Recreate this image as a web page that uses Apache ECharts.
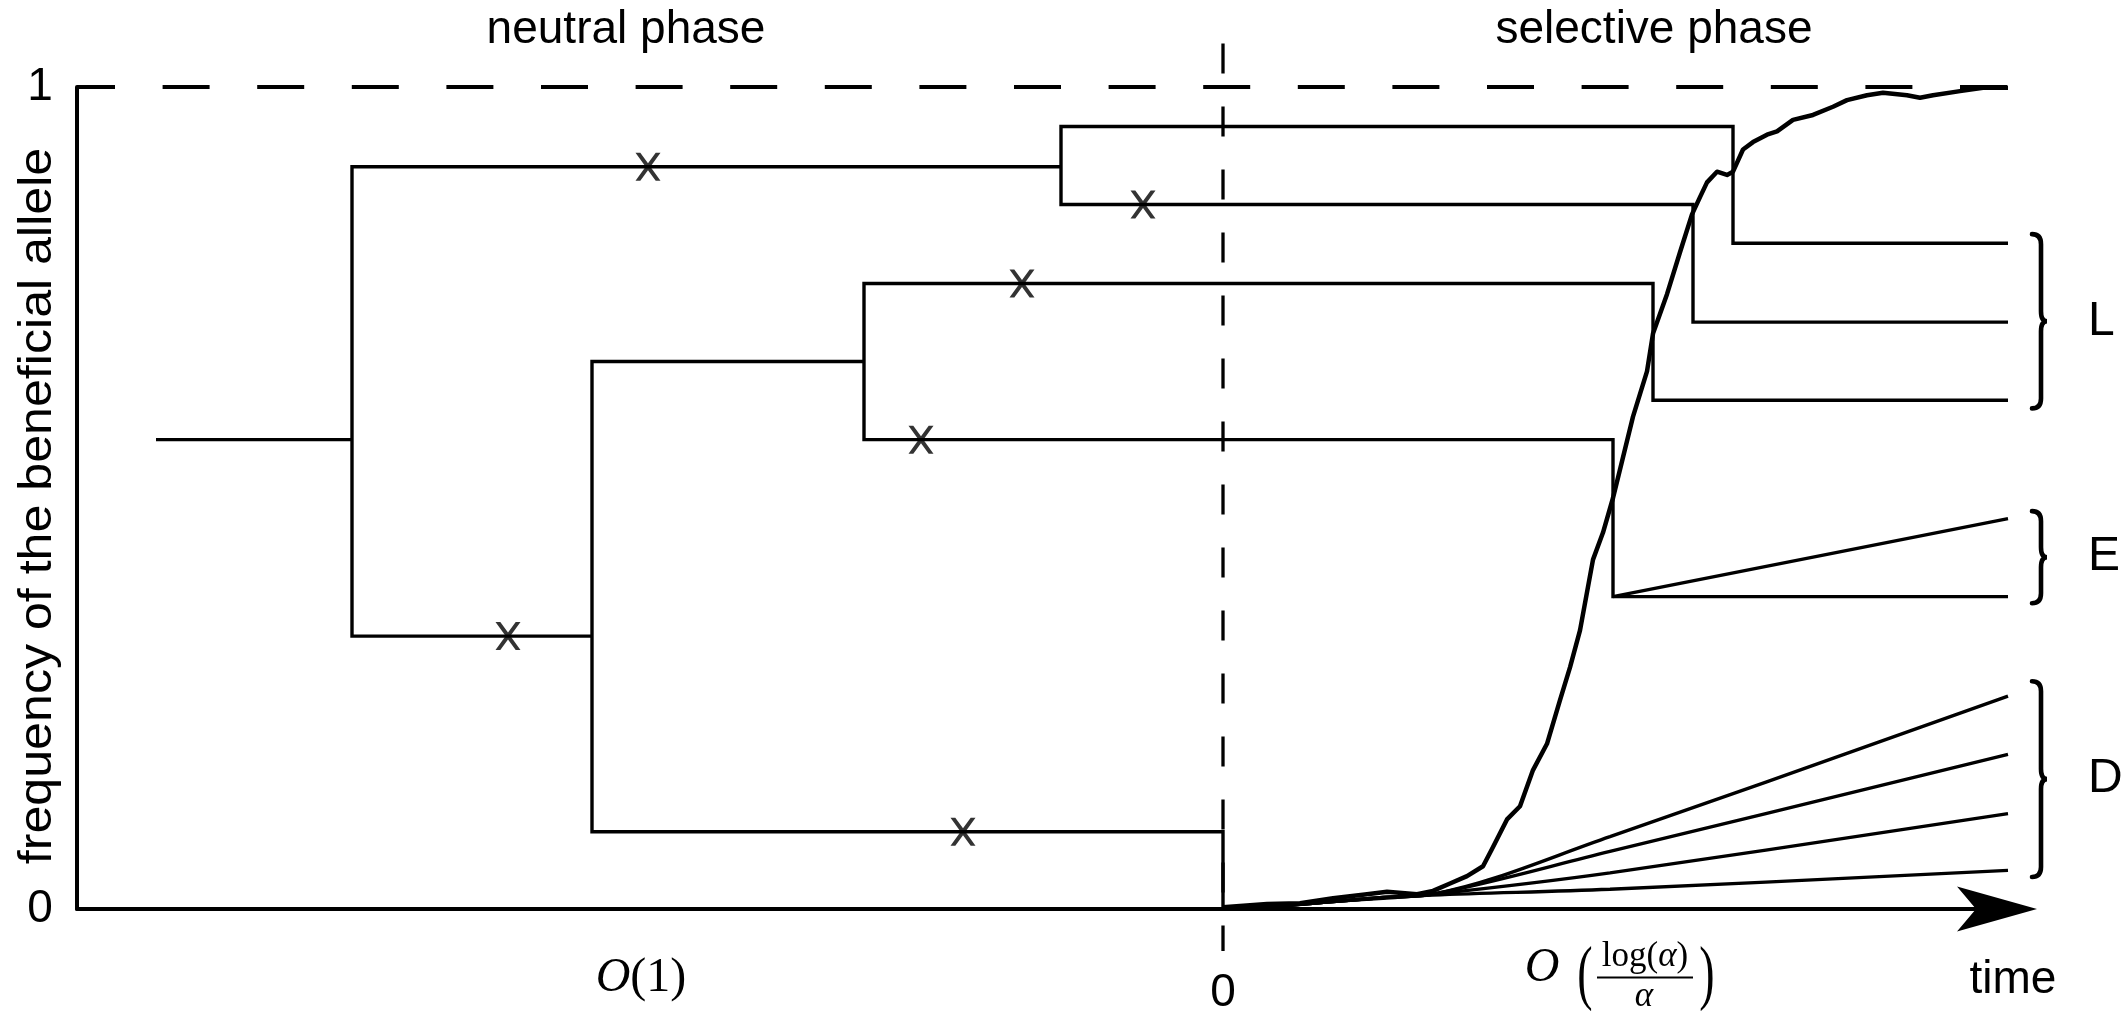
<!DOCTYPE html>
<html>
<head>
<meta charset="utf-8">
<title>neutral and selective phase</title>
<script src="https://cdn.jsdelivr.net/npm/echarts@6/dist/echarts.min.js"></script>
<style>
  html, body { margin: 0; padding: 0; background: #fff; }
  #chart { width: 2124px; height: 1016px; }
</style>
</head>
<body>
<div id="chart"></div>
<script>
// time axis: 0 = start of the selective phase, frequency axis 0..1
const timeMin = -11.46
const timeMax = 8.05
const freqTicks = [0, 1]
const timeTicks = [0]
const arrowTip = [8.14, 0]

// genealogy, every branch is a polyline of [time, frequency]
const branches = [
  [[-10.67, 0.571], [-8.71, 0.571]],
  [[-1.62, 0.903], [-8.71, 0.903], [-8.71, 0.332], [-6.31, 0.332]],
  [[7.85, 0.810], [5.10, 0.810], [5.10, 0.952], [-1.62, 0.952], [-1.62, 0.857], [4.70, 0.857], [4.70, 0.714], [7.85, 0.714]],
  [[-3.59, 0.666], [-6.31, 0.666], [-6.31, 0.094], [0, 0.094], [0, 0]],
  [[7.85, 0.619], [4.30, 0.619], [4.30, 0.761], [-3.59, 0.761], [-3.59, 0.571], [3.90, 0.571], [3.90, 0.380], [7.85, 0.380]],
  [[3.90, 0.380], [7.85, 0.475]]
]

// neutral mutations (x marks)
const mutations = [[-5.75, 0.903], [-0.80, 0.857], [-2.01, 0.761], [-3.02, 0.571], [-7.15, 0.332], [-2.60, 0.094]]

// frequency of the beneficial allele during the sweep
const sweep = [
  [0, 0.002], [0.44, 0.006], [0.77, 0.007], [1.10, 0.013], [1.44, 0.018], [1.64, 0.021], [1.94, 0.018],
  [2.10, 0.022], [2.27, 0.031], [2.44, 0.040], [2.60, 0.052], [2.69, 0.073], [2.84, 0.109], [2.97, 0.125],
  [3.10, 0.169], [3.24, 0.201], [3.37, 0.254], [3.47, 0.294], [3.57, 0.339], [3.70, 0.425], [3.80, 0.458],
  [3.90, 0.500], [4.10, 0.599], [4.24, 0.654], [4.30, 0.700], [4.44, 0.748], [4.57, 0.799], [4.69, 0.845],
  [4.77, 0.866], [4.84, 0.884], [4.94, 0.897], [5.04, 0.893], [5.10, 0.897], [5.20, 0.924], [5.30, 0.933],
  [5.44, 0.942], [5.54, 0.946], [5.70, 0.960], [5.90, 0.966], [6.10, 0.976], [6.24, 0.984], [6.44, 0.990],
  [6.60, 0.993], [6.84, 0.990], [6.97, 0.987], [7.10, 0.990], [7.37, 0.995], [7.60, 0.999], [7.85, 0.999]
]

// lineages born in the selective phase (D)
const dLines = [
  [[0, 0], [0.6, 0.004], [1.1, 0.009], [1.6, 0.014], [2.1, 0.018], [3.87, 0.088], [7.85, 0.259]],
  [[0, 0], [0.6, 0.004], [1.1, 0.009], [1.6, 0.014], [2.1, 0.018], [3.87, 0.070], [7.85, 0.188]],
  [[0, 0], [0.6, 0.004], [1.1, 0.009], [1.6, 0.014], [2.1, 0.018], [3.87, 0.044], [7.85, 0.116]],
  [[0, 0], [0.6, 0.004], [1.1, 0.009], [1.6, 0.013], [2.1, 0.017], [3.87, 0.024], [7.85, 0.047]]
]

const fixLine = [[timeMin, 1], [7.85, 1]]
const phaseLine = [[0, 1.053], [0, -0.051]]

// brackets: [time, top freq, bottom freq, letter]
const brackets = [
  [8.09, 0.821, 0.609, 'L'],
  [8.09, 0.484, 0.372, 'E'],
  [8.09, 0.277, 0.039, 'D']
]
const letterX = 8.65

const sans = '"Liberation Sans", Arial, sans-serif'
const serif = '"Liberation Serif", "Times New Roman", serif'

function txt(x, y, text, size, extra, family, italic) {
  return Object.assign({
    type: 'text', x: x, y: y,
    style: {
      text: text, fontSize: size, fontFamily: family || sans, fontStyle: italic ? 'italic' : 'normal', fill: '#000',
      align: 'center', verticalAlign: 'middle', textAlign: 'center', textVerticalAlign: 'middle'
    }
  }, extra || {})
}

const myChart = echarts.init(document.getElementById('chart'), null, { renderer: 'canvas' })

const option = {
  animation: false,
  backgroundColor: '#fff',
  grid: { left: 77, right: 96, top: 87, bottom: 103 },
  xAxis: {
    type: 'value',
    min: timeMin,
    max: timeMax,
    splitLine: { show: false },
    axisTick: { show: false },
    axisLine: { onZero: false, lineStyle: { color: '#000', width: 4 } },
    axisLabel: {
      customValues: timeTicks,
      formatter: function (v) { return String(v) },
      fontSize: 46,
      fontFamily: sans,
      color: '#000',
      margin: 61
    }
  },
  yAxis: {
    type: 'value',
    min: 0,
    max: 1,
    interval: 1,
    splitLine: { show: false },
    axisTick: { show: false },
    axisLine: { show: true, onZero: false, lineStyle: { color: '#000', width: 4 } },
    axisLabel: {
      customValues: freqTicks,
      fontSize: 46,
      fontFamily: sans,
      color: '#000',
      align: 'center',
      margin: 37
    }
  },
  series: [
    {
      type: 'line',
      data: fixLine,
      showSymbol: false,
      symbol: 'none',
      clip: false,
      lineStyle: { color: '#000', width: 4, type: [47, 47.6], dashOffset: 9 }
    },
    {
      type: 'line',
      data: phaseLine,
      showSymbol: false,
      symbol: 'none',
      clip: false,
      lineStyle: { color: '#000', width: 3.3, type: [30, 33] }
    },
    {
      type: 'lines',
      coordinateSystem: 'cartesian2d',
      polyline: true,
      data: branches.map(function (b) { return { coords: b } }),
      lineStyle: { color: '#000', width: 3.4, opacity: 1 }
    },
    ...dLines.map(function (d) {
      return {
        type: 'line',
        data: d,
        showSymbol: false,
        symbol: 'none',
        smooth: 0.35,
        lineStyle: { color: '#000', width: 3.3 }
      }
    }),
    {
      type: 'line',
      data: sweep,
      showSymbol: false,
      symbol: 'none',
      lineStyle: { color: '#000', width: 4.5, join: 'round' }
    },
    {
      type: 'scatter',
      data: mutations,
      symbol: 'path://M0,0 L5,0 L13,10.5 L21,0 L26,0 L15.5,14 L26,28 L21,28 L13,17.5 L5,28 L0,28 L10.5,14 Z',
      symbolSize: [25, 28],
      itemStyle: { color: '#000' },
      z: 5
    },
    {
      // arrow head of the time axis
      type: 'custom',
      clip: false,
      data: [arrowTip],
      renderItem: function (params, api) {
        const p = api.coord([api.value(0), api.value(1)])
        return {
          type: 'polygon',
          shape: { points: [[p[0], p[1]], [p[0] - 80, p[1] - 22.5], [p[0] - 61, p[1]], [p[0] - 80, p[1] + 22.5]] },
          style: { fill: '#000' }
        }
      },
      z: 6
    },
    {
      type: 'custom',
      clip: false,
      data: brackets.map(function (b) { return [b[0], b[1], b[2]] }),
      encode: { x: 0, y: [1, 2] },
      renderItem: function (params, api) {
        const top = api.coord([api.value(0), api.value(1)])
        const bot = api.coord([api.value(0), api.value(2)])
        const x0 = top[0], yt = top[1], yb = bot[1], ym = (yt + yb) / 2
        const s = x0 + 9, t = x0 + 15, r = 10
        const d = ['M', x0, yt, 'Q', s, yt, s, yt + r, 'L', s, ym - r, 'Q', s, ym, t, ym,
          'Q', s, ym, s, ym + r, 'L', s, yb - r, 'Q', s, yb, x0, yb].join(' ')
        const lab = api.coord([letterX, (api.value(1) + api.value(2)) / 2])
        return {
          type: 'group',
          children: [
            { type: 'path', shape: { pathData: d }, style: { fill: 'none', stroke: '#000', lineWidth: 4.6, lineCap: 'round' } },
            {
              type: 'text', x: lab[0], y: lab[1],
              style: {
                text: brackets[params.dataIndex][3], fontSize: 48, fontFamily: sans, fill: '#000',
                align: 'left', verticalAlign: 'middle', textAlign: 'left', textVerticalAlign: 'middle'
              }
            }
          ]
        }
      }
    }
  ],
  graphic: [
    txt(626, 30, 'neutral phase', 46),
    txt(1654, 30, 'selective phase', 46),
    txt(38, 506, 'frequency of the beneficial allele', 46, { rotation: Math.PI / 2, scaleX: 1.09 }),
    txt(2013, 980, 'time', 46),
    {
      type: 'text', x: 641, y: 978,
      style: {
        text: '{c|O}{n|(1)}', fill: '#000',
        align: 'center', verticalAlign: 'middle', textAlign: 'center', textVerticalAlign: 'middle',
        rich: {
          c: { fontSize: 48, fontFamily: serif, fontStyle: 'italic' },
          n: { fontSize: 48, fontFamily: serif }
        }
      }
    },
    txt(1542, 968, 'O', 48, null, serif, true),
    txt(1585, 977, '(', 46, { scaleY: 1.55 }, serif),
    txt(1707, 977, ')', 46, { scaleY: 1.55 }, serif),
    {
      type: 'text', x: 1645, y: 957,
      style: {
        text: '{n|log(}{a|α}{n|)}', fill: '#000',
        align: 'center', verticalAlign: 'middle', textAlign: 'center', textVerticalAlign: 'middle',
        rich: {
          n: { fontSize: 35, fontFamily: serif },
          a: { fontSize: 35, fontFamily: serif, fontStyle: 'italic' }
        }
      }
    },
    { type: 'line', shape: { x1: 1597, y1: 977.5, x2: 1693, y2: 977.5 }, style: { stroke: '#000', lineWidth: 2 } },
    txt(1644, 997, 'α', 35, null, serif, true)
  ]
}

option && myChart.setOption(option)
</script>
</body>
</html>
